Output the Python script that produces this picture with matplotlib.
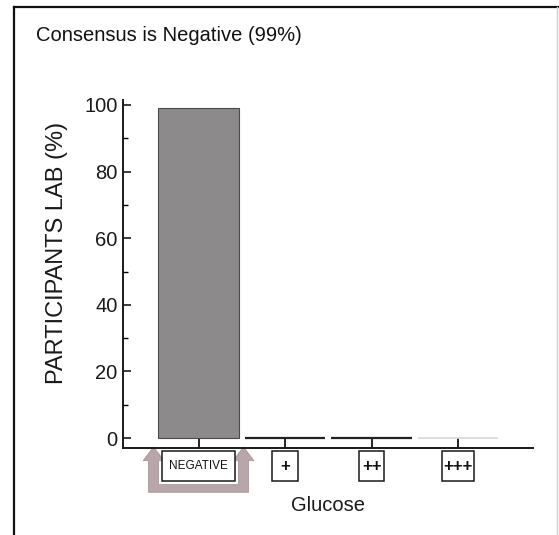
import matplotlib
matplotlib.use("Agg")
import matplotlib.pyplot as plt
from matplotlib.patches import Rectangle, Polygon
from matplotlib.lines import Line2D

# ---- data ----
categories = ["NEGATIVE", "+", "++", "+++"]
values = [99, 0, 0, 0]
yticks = [0, 20, 40, 60, 80, 100]
title = "Consensus is Negative (99%)"
ylabel = "PARTICIPANTS LAB (%)"
xlabel = "Glucose"
consensus_index = 0

# ---- style ----
plt.rcParams['font.family'] = ['Liberation Sans', 'DejaVu Sans']
W, H = 559, 535
fig = plt.figure(figsize=(W / 100, H / 100), dpi=100)
ax = fig.add_axes([123 / W, 1 - 448 / H, 410 / W, 348 / H])

x = list(range(len(categories)))
bar_w = 0.936
face = ['#8d8a8b', 'none', 'none', 'none']
edge = ['#4a4a4a', '#222222', '#222222', '#d8d8d8']
lw = [0.8, 1.6, 1.6, 1.2]
ax.bar(x, values, width=bar_w, color=face, edgecolor=edge, linewidth=lw, zorder=3)

ax.set_xlim(-0.873, 3.867)
ax.set_ylim(-3, 101.5)
ax.set_yticks(yticks)
ax.set_yticks([v + 10 for v in yticks[:-1]], minor=True)
ax.tick_params(axis='y', which='major', direction='in', length=6, width=1.2,
               labelsize=14.5, pad=4, colors='#1a1a1a')
ax.tick_params(axis='y', which='minor', direction='in', length=3.5, width=1.0)
ax.set_xticks(x)
ax.tick_params(axis='x', direction='in', length=7.5, width=1.2, labelbottom=False)
for s in ['top', 'right']:
    ax.spines[s].set_visible(False)
for s in ['left', 'bottom']:
    ax.spines[s].set_linewidth(1.4)
    ax.spines[s].set_color('#1a1a1a')

ax.set_ylabel(ylabel, fontsize=17, color='#1a1a1a')
ax.yaxis.set_label_coords(-0.135, 0.56)
ax.set_xlabel(xlabel, fontsize=14.5, color='#1a1a1a')
ax.xaxis.set_label_coords(0.5, -0.138)
ax.xaxis.label.set_va('top')

# boxed category labels
box_w = [0.84, 0.30, 0.30, 0.38]
for xi, lab, bw in zip(x, categories, box_w):
    ax.add_patch(Rectangle((xi - bw / 2, -12.8), bw, 8.8, facecolor='white',
                           edgecolor='#1a1a1a', linewidth=1.1, clip_on=False, zorder=4))
    fs = 8.5 if len(lab) > 3 else 12
    ax.text(xi, -8.5, lab, ha='center', va='center', fontsize=fs,
            fontweight='normal' if len(lab) > 3 else 'bold', color='#111111',
            clip_on=False, zorder=5)

# consensus arrows (U shape with two heads)
c = consensus_index
off = 0.52
sh = 0.058
hd = 0.12
y_tip, y_base, y_bot_in, y_bot = -2.7, -6.8, -14.0, -16.3
pts = [
    (c - off, y_tip), (c - off + hd, y_base), (c - off + sh, y_base),
    (c - off + sh, y_bot_in), (c + off - sh, y_bot_in), (c + off - sh, y_base),
    (c + off - hd, y_base), (c + off, y_tip), (c + off + hd, y_base),
    (c + off + sh, y_base), (c + off + sh, y_bot), (c - off - sh, y_bot),
    (c - off - sh, y_base), (c - off - hd, y_base),
]
ax.add_patch(Polygon(pts, closed=True, facecolor='#b9a6ab', edgecolor='#a8969b',
                     linewidth=0.6, clip_on=False, zorder=2))

# title
fig.text(36 / W, 1 - 41 / H, title, fontsize=14.5, ha='left', va='baseline', color='#111111')

# outer frame (scanned page border)
fig.add_artist(Line2D([14 / W, 1.0], [1 - 7 / H, 1 - 7 / H], color='#111111', lw=1.6,
                      transform=fig.transFigure))
fig.add_artist(Line2D([14 / W, 14 / W], [0, 1 - 7 / H], color='#111111', lw=1.6,
                      transform=fig.transFigure))
fig.add_artist(Line2D([557 / W, 557 / W], [0, 1 - 7 / H], color='#cfcfcf', lw=1.0,
                      transform=fig.transFigure))

fig.savefig("out.png", dpi=100)
